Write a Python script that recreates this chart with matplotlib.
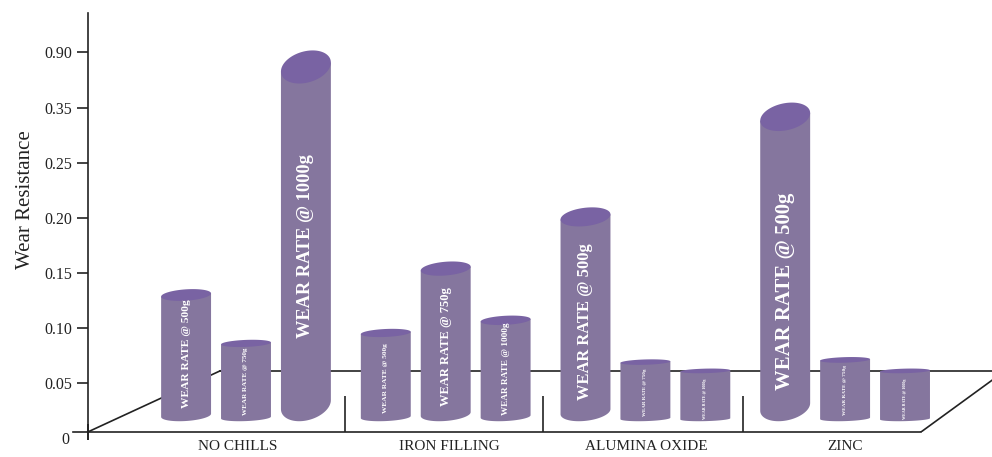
#!/usr/bin/env python
# -*- coding: utf-8 -*-

import numpy as np
import matplotlib
matplotlib.use('Agg')
import matplotlib.pyplot as plt
from matplotlib.patches import Polygon
from matplotlib.transforms import IdentityTransform

plt.rcParams['font.family'] = ['Liberation Serif', 'DejaVu Serif']

categories = ['NO CHILLS', 'IRON FILLING', 'ALUMINA OXIDE', 'ZINC']
loads = ['500g', '750g', '1000g']

# one list per load, same order as categories
wear_500 = [0.130, 0.0955, 0.201, 0.334]
wear_750 = [0.086, 0.154, 0.069, 0.071]
wear_1000 = [0.753, 0.107, 0.061, 0.061]

# the y axis is not linear: the ticks are evenly spaced whatever their value
tick_values = [0, 0.05, 0.10, 0.15, 0.20, 0.25, 0.35, 0.90]
tick_labels = ['0', '0.05', '0.10', '0.15', '0.20', '0.25', '0.35', '0.90']

# scale knots (height over the floor line), last one is the top of the axis
scale_values = [0, 0.05, 0.10, 0.15, 0.20, 0.25, 0.35, 0.90, 1.20]
scale_heights = [0, 49, 104, 159, 214, 269, 324, 380, 419]

BODY = '#85769e'
TOP = '#7963a3'
INK = '#222222'

# label length and lift above the bar foot, pixels, row = category, col = load
label_len = [[109, 68, 183], [70, 119, 92], [157, 48, 41], [197, 50, 41]]
label_lift = [[13, 6, 83], [8, 15, 6], [21, 5, 2], [31, 6, 2]]

BAR_FOOT = 0.011
FLOOR_BACK = 0.061


def forward(v):
    return np.interp(v, scale_values, scale_heights)


def inverse(h):
    return np.interp(h, scale_heights, scale_values)


def draw_cylinder(ax, x, value):
    """Cylinder with a sheared ellipse on top, foot sits on BAR_FOOT."""
    left = ax.transData.transform((x - 0.125, value))
    right = ax.transData.transform((x + 0.125, value))
    foot = ax.transData.transform((x, BAR_FOOT))[1]
    a = (right[0] - left[0]) / 2
    cx = (right[0] + left[0]) / 2
    cy = left[1]
    height = cy - foot
    b = max(0.045 * height, 1.5)
    k = 0.18 * height / 355
    low = foot + np.sqrt(b ** 2 + (k * a) ** 2)

    t = np.linspace(0, 2 * np.pi, 80)
    top_pts = np.c_[cx + a * np.cos(t), cy + b * np.sin(t) + k * a * np.cos(t)]
    t = np.linspace(np.pi, 2 * np.pi, 40)
    low_pts = np.c_[cx + a * np.cos(t), low + b * np.sin(t) + k * a * np.cos(t)]
    body_pts = np.vstack([low_pts, [[cx + a, cy + k * a], [cx - a, cy - k * a]]])

    ax.add_patch(Polygon(body_pts, closed=True, fc=BODY, ec='none', zorder=3,
                         transform=IdentityTransform(), clip_on=False))
    ax.add_patch(Polygon(top_pts, closed=True, fc=TOP, ec='none', zorder=3.5,
                         transform=IdentityTransform(), clip_on=False))
    return cx, foot


def draw_label(fig, ax, text, cx, y, length):
    t = ax.text(cx, y, text, rotation=90, ha='center', va='bottom', fontsize=10,
                color='white', fontweight='bold', zorder=4,
                transform=IdentityTransform(), clip_on=False)
    box = t.get_window_extent(fig.canvas.get_renderer())
    t.set_fontsize(10 * length / box.height)


fig = plt.figure(figsize=(9.92, 4.57), dpi=100)
ax = fig.add_axes([87.5 / 992, 25 / 457, (992 - 87.5) / 992, 419 / 457])
ax.set_yscale('function', functions=(forward, inverse))
ax.set_ylim(0, 1.20)
ax.set_xlim((87.5 - 246) / 199.7, (992 - 246) / 199.7)
ax.patch.set_alpha(0)

for side in ['top', 'right', 'bottom']:
    ax.spines[side].set_visible(False)
ax.spines['left'].set_linewidth(1.2)
ax.spines['left'].set_color(INK)
ax.spines['left'].set_bounds(0, 1.20)

# floor
ax.plot([-0.865, 3.38], [0, 0], color=INK, lw=1.2, zorder=1, clip_on=False)
ax.plot([-0.7925, -0.13], [0, FLOOR_BACK], color=INK, lw=1.2, zorder=1, clip_on=False)
ax.plot([-0.13, 3.80], [FLOOR_BACK, FLOOR_BACK], color=INK, lw=1.2, zorder=1)
ax.plot([3.38, 3.80], [0, FLOOR_BACK], color=INK, lw=1.2, zorder=1)
ax.vlines([0.495, 1.485, 2.49], 0, 0.037, color=INK, lw=1.2, zorder=1)
ax.plot([-0.7925, -0.7925], [0, 0], marker='|', ms=12, mew=1.2, color=INK, clip_on=False)

# bars
for i in range(len(categories)):
    for j, series in enumerate([wear_500, wear_750, wear_1000]):
        cx, foot = draw_cylinder(ax, i + (j - 1) * 0.3, series[i])
        draw_label(fig, ax, 'WEAR RATE @ ' + loads[j], cx, foot + label_lift[i][j],
                   label_len[i][j])

ax.set_yticks(tick_values[1:])
ax.set_yticklabels(tick_labels[1:], fontsize=11.5, color=INK)
ax.minorticks_off()
ax.tick_params(axis='y', length=8, width=1.2, color=INK, pad=3)
ax.annotate(tick_labels[0], (-0.905, 0), xytext=(0, -6), textcoords='offset points',
            ha='center', va='center', fontsize=11.5, color=INK, annotation_clip=False)

ax.set_xticks([-0.04, 1.02, 2.005, 3.0])
ax.set_xticklabels(categories, fontsize=11, color=INK)
ax.tick_params(axis='x', length=0, pad=5.5)

fig.text(26 / 992, 1 - 200 / 457, 'Wear Resistance', rotation=90, ha='center', va='center',
         fontsize=15, color=INK)

fig.savefig('out.png', dpi=100)
